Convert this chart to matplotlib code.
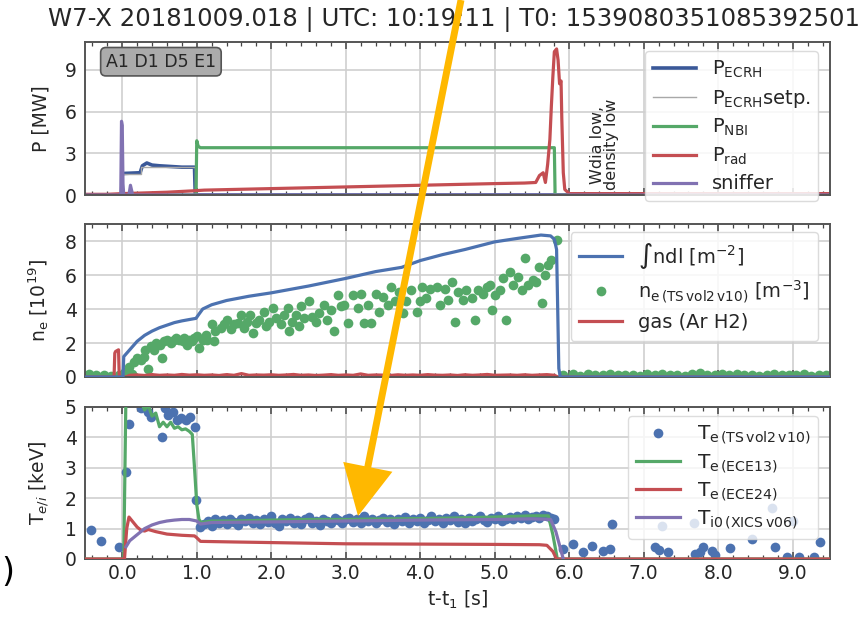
import numpy as np
import matplotlib
matplotlib.use('Agg')
import matplotlib.pyplot as plt
from matplotlib.patches import FancyArrowPatch
from matplotlib.ticker import MultipleLocator, FormatStrFormatter

# ---------------- data ----------------
title_text = "W7-X 20181009.018 | UTC: 10:19:11 | T0: 1539080351085392501"

# Panel 1: powers [MW]
t_ecrh = [-0.5, -0.01, 0.0, 0.02, 0.24, 0.27, 0.33, 0.40, 0.50, 0.65, 0.80, 0.97, 0.98, 9.5]
p_ecrh = [0, 0, 1.5, 1.55, 1.6, 2.1, 2.3, 2.15, 2.1, 2.05, 2.0, 2.0, 0, 0]
t_setp = [-0.5, 0.0, 0.0, 0.25, 0.25, 0.98, 0.98, 9.5]
p_setp = [0, 0, 1.5, 1.5, 2.0, 2.0, 0, 0]
t_nbi = [-0.5, 0.99, 1.0, 1.02, 1.05, 5.80, 5.81, 9.5]
p_nbi = [0, 0, 3.9, 3.5, 3.4, 3.4, 0, 0]
t_rad = [-0.5, -0.2, 0.0, 0.3, 0.6, 0.95, 1.1, 1.5, 2.0, 2.5, 3.0, 3.5, 4.0, 4.5, 5.0,
         5.4, 5.55, 5.60, 5.65, 5.68, 5.71, 5.74, 5.76, 5.78, 5.80, 5.83, 5.85, 5.87,
         5.89, 5.90, 5.92, 5.94, 6.0, 9.5]
p_rad = [0.05, 0.05, 0.1, 0.15, 0.2, 0.3, 0.35, 0.4, 0.46, 0.52, 0.58, 0.64, 0.7, 0.76, 0.82,
         0.86, 0.9, 1.4, 1.6, 0.9, 2.2, 4.0, 6.4, 8.5, 10.3, 10.5, 9.7, 8.0,
         8.2, 5.5, 1.6, 0.4, 0.1, 0.1]
t_sniff = [-0.5, -0.02, -0.01, 0.0, 0.01, 0.02, 0.09, 0.11, 0.14, 0.2, 9.5]
p_sniff = [0, 0, 5.3, 5.0, 0.8, 0, 0, 0.7, 0, 0, 0]

# Panel 2: density [1e19]
t_ndl = [-0.5, 0.01, 0.02, 0.1, 0.2, 0.3, 0.4, 0.5, 0.6, 0.7, 0.8, 0.9, 0.99, 1.03, 1.08,
         1.2, 1.4, 1.7, 2.0, 2.5, 3.0, 3.4, 3.75, 4.0, 4.3, 4.6, 5.0, 5.3, 5.62, 5.75,
         5.8, 5.83, 5.86, 5.88, 9.5]
ne_ndl = [0, 0, 1.2, 1.6, 2.1, 2.45, 2.7, 2.9, 3.05, 3.2, 3.3, 3.38, 3.45, 3.7, 4.0,
          4.25, 4.5, 4.75, 4.95, 5.35, 5.8, 6.2, 6.45, 6.85, 7.2, 7.5, 7.95, 8.15, 8.35, 8.3,
          8.1, 7.5, 0.5, 0, 0]

t_ts_ne = [-0.45, -0.35, -0.25, -0.15, -0.05,
           0.04, 0.09, 0.13, 0.16, 0.20, 0.25, 0.29, 0.34, 0.31, 0.38, 0.43, 0.45, 0.51, 0.54,
           0.56, 0.60, 0.65, 0.69, 0.72, 0.76, 0.81, 0.83, 0.87, 0.90, 0.94, 0.96, 1.01, 1.03,
           1.08, 1.12, 1.14, 1.21, 1.23, 1.25, 1.32, 1.37, 1.41, 1.46, 1.50, 1.55, 1.59, 1.64,
           1.68, 1.72, 1.75, 1.79, 1.84, 1.90, 1.93, 1.97, 2.02, 2.06, 2.13, 2.17, 2.22, 2.24,
           2.28, 2.33, 2.37, 2.40, 2.44, 2.51, 2.55, 2.60, 2.64, 2.71, 2.75, 2.80, 2.84, 2.89,
           2.93, 2.98, 3.03, 3.10, 3.16, 3.21, 3.25, 3.30, 3.34, 3.41, 3.45, 3.50, 3.57, 3.61,
           3.66, 3.72, 3.77, 3.81, 3.88, 3.95, 4.00, 4.02, 4.08, 4.13, 4.22, 4.26, 4.33, 4.37,
           4.42, 4.46, 4.51, 4.57, 4.62, 4.69, 4.73, 4.78, 4.84, 4.90, 4.93, 4.96, 5.00, 5.07,
           5.11, 5.15, 5.20, 5.25, 5.31, 5.36, 5.41, 5.45, 5.52, 5.56, 5.60, 5.64, 5.67, 5.72,
           5.76, 5.83,
           5.92, 6.05, 6.15, 6.25, 6.35, 6.45, 6.55, 6.65, 6.75, 6.85, 6.95, 7.05, 7.15, 7.25,
           7.35, 7.45, 7.55, 7.65, 7.75, 7.85, 7.95, 8.05, 8.15, 8.25, 8.35, 8.45, 8.55, 8.65,
           8.75, 8.85, 8.95, 9.05, 9.15, 9.25, 9.35, 9.45]
ne_ts = [0.15, 0.10, 0.12, 0.08, 0.10,
         0.32, 0.6, 0.2, 0.9, 1.1, 1.0, 1.2, 0.5, 1.6, 1.8, 1.6, 2.0, 1.9, 1.1,
         2.1, 2.2, 2.0, 2.2, 2.3, 2.2, 2.1, 2.3, 1.9, 2.2, 2.1, 2.3, 2.4, 1.7,
         2.2, 2.5, 2.2, 3.1, 2.1, 2.7, 2.9, 3.1, 3.35, 2.8, 3.1, 3.2, 3.65, 2.9,
         3.25, 3.65, 2.6, 3.2, 3.35, 3.85, 3.0, 3.25, 4.05, 3.45, 3.1, 3.65, 4.05, 2.7,
         3.25, 3.65, 3.0, 4.15, 3.45, 4.45, 3.55, 3.25, 3.75, 4.25, 3.35, 3.95, 2.7, 4.8,
         4.15, 4.25, 3.15, 4.8, 4.05, 4.9, 3.15, 4.25, 3.15, 4.9, 3.85, 4.7, 4.25, 5.3,
         4.45, 5.0, 3.75, 4.45, 5.1, 3.85, 4.45, 5.3, 4.65, 5.2, 5.3, 4.25, 5.2, 4.55,
         5.6, 3.25, 5.0, 4.55, 5.1, 4.65, 3.35, 5.1, 4.9, 5.3, 5.4, 3.95, 4.8, 5.1,
         5.8, 3.35, 6.2, 5.4, 5.9, 5.1, 7.0, 5.4, 5.7, 5.6, 6.5, 4.35, 6.0, 6.6,
         6.9, 8.05,
         0.10, 0.15, 0.08, 0.20, 0.12, 0.10, 0.18, 0.09, 0.14, 0.11, 0.07, 0.16, 0.12, 0.19,
         0.10, 0.13, 0.08, 0.17, 0.22, 0.11, 0.09, 0.15, 0.12, 0.18, 0.10, 0.14, 0.08, 0.13,
         0.16, 0.09, 0.12, 0.10, 0.15, 0.08, 0.11, 0.13]

t_gas = [-0.5, -0.11, -0.10, -0.09, -0.05, -0.04, 0.05, 0.1, 0.2, 0.3, 0.4, 0.5, 0.6, 0.7,
         0.8, 0.9, 1.0, 1.1, 1.2, 1.3, 1.4, 1.5, 1.6, 1.7, 1.8, 1.9, 2.0, 2.1, 2.2, 2.3,
         2.4, 2.5, 2.6, 2.7, 2.8, 2.9, 3.0, 3.1, 3.2, 3.3, 3.4, 3.5, 3.6, 3.7, 3.8, 3.9,
         4.0, 4.1, 4.2, 4.3, 4.4, 4.5, 4.6, 4.7, 4.8, 4.9, 5.0, 5.1, 5.2, 5.3, 5.4, 5.5,
         5.6, 5.7, 5.8, 5.85, 9.5]
ne_gas = [0.0, 0.0, 1.4, 1.5, 1.6, 0.0, 0.0, 0.1, 0.12, 0.09, 0.14, 0.1, 0.12, 0.1,
          0.15, 0.11, 0.13, 0.1, 0.12, 0.09, 0.14, 0.1, 0.2, 0.1, 0.12, 0.11, 0.13, 0.1,
          0.12, 0.15, 0.1, 0.12, 0.09, 0.11, 0.14, 0.1, 0.12, 0.1, 0.18, 0.1, 0.12, 0.11,
          0.09, 0.13, 0.1, 0.12, 0.1, 0.14, 0.11, 0.1, 0.12, 0.09, 0.13, 0.1, 0.12, 0.15,
          0.1, 0.11, 0.12, 0.1, 0.13, 0.1, 0.12, 0.14, 0.1, 0.0, 0.0]

# Panel 3: temperatures [keV]
t_te_ts = [-0.42, -0.29, -0.05, 0.05, 0.09, 0.15, 0.20, 0.25, 0.34, 0.39, 0.54, 0.58, 0.62,
           0.68, 0.74, 0.79, 0.86, 0.91, 0.97, 0.99,
           1.05, 1.10, 1.15, 1.20, 1.25, 1.30, 1.35, 1.40, 1.45, 1.50, 1.55, 1.60, 1.65, 1.70,
           1.75, 1.80, 1.85, 1.90, 1.95, 2.00, 2.05, 2.10, 2.15, 2.20, 2.25, 2.30, 2.35, 2.40,
           2.45, 2.50, 2.55, 2.60, 2.65, 2.70, 2.75, 2.80, 2.85, 2.90, 2.95, 3.00, 3.05, 3.10,
           3.15, 3.20, 3.25, 3.30, 3.35, 3.40, 3.45, 3.50, 3.55, 3.60, 3.65, 3.70, 3.75, 3.80,
           3.85, 3.90, 3.95, 4.00, 4.05, 4.10, 4.15, 4.20, 4.25, 4.30, 4.35, 4.40, 4.45, 4.50,
           4.55, 4.60, 4.65, 4.70, 4.75, 4.80, 4.85, 4.90, 4.95, 5.00, 5.05, 5.10, 5.15, 5.20,
           5.25, 5.30, 5.35, 5.40, 5.45, 5.50, 5.55, 5.60, 5.65, 5.70, 5.75, 5.80,
           5.92, 6.05, 6.18, 6.31, 6.45, 6.55, 6.58, 7.15, 7.20, 7.25, 7.33, 7.67, 7.69, 7.76,
           7.79, 7.91, 7.96, 8.16, 8.45, 8.72, 8.76, 8.92, 9.00, 9.08, 9.28, 9.37]
te_ts = [0.95, 0.6, 0.38, 2.87, 4.43, 5.6, 5.3, 4.96, 4.85, 4.68, 4.02, 4.96, 4.74,
         4.85, 4.57, 4.65, 4.57, 4.68, 4.35, 1.94,
         1.05, 1.15, 1.25, 1.1, 1.3, 1.2, 1.28, 1.15, 1.3, 1.22, 1.12, 1.3, 1.25, 1.35,
         1.2, 1.28, 1.15, 1.3, 1.22, 1.4, 1.2, 1.1, 1.3, 1.25, 1.35, 1.2, 1.28, 1.15,
         1.3, 1.38, 1.2, 1.25, 1.12, 1.32, 1.25, 1.2, 1.35, 1.28, 1.18, 1.3, 1.36, 1.22,
         1.3, 1.18, 1.4, 1.25, 1.3, 1.2, 1.28, 1.35, 1.22, 1.3, 1.15, 1.32, 1.25, 1.38,
         1.2, 1.3, 1.24, 1.35, 1.2, 1.28, 1.42, 1.25, 1.3, 1.18, 1.35, 1.28, 1.4, 1.22,
         1.3, 1.2, 1.36, 1.25, 1.32, 1.4, 1.28, 1.22, 1.35, 1.3, 1.42, 1.25, 1.32, 1.38,
         1.3, 1.4, 1.35, 1.45, 1.3, 1.38, 1.42, 1.35, 1.45, 1.4, 1.35, 1.3,
         0.33, 0.48, 0.22, 0.44, 0.27, 0.33, 1.16, 0.41, 0.3, 1.1, 0.22, 1.18, 0.16, 0.24,
         0.41, 0.26, 0.13, 0.36, 0.65, 1.67, 0.41, 0.08, 1.25, 0.08, 0.05, 0.57]

t_ece13 = [-0.5, 0.02, 0.05, 0.10, 0.20, 0.25, 0.30, 0.35, 0.40, 0.45, 0.50, 0.55, 0.60,
           0.65, 0.70, 0.75, 0.80, 0.85, 0.90, 0.94, 0.97, 1.00, 1.03, 1.06, 1.2, 1.5,
           2.0, 2.5, 3.0, 3.5, 4.0, 4.5, 5.0, 5.5, 5.72, 5.78, 5.84, 9.5]
te_ece13 = [0, 0, 5.5, 6.0, 6.0, 5.2, 4.9, 5.05, 4.7, 4.8, 4.35, 4.5, 4.35,
            4.5, 4.3, 4.35, 4.25, 4.28, 4.2, 4.1, 3.0, 1.8, 1.3, 1.2, 1.25, 1.25,
            1.28, 1.3, 1.3, 1.32, 1.33, 1.35, 1.38, 1.42, 1.42, 0.8, 0.0, 0.0]
t_ece24 = [-0.5, 0.03, 0.06, 0.09, 0.15, 0.20, 0.25, 0.30, 0.35, 0.45, 0.60, 0.80, 0.97,
           1.00, 1.05, 1.5, 2.0, 3.0, 4.0, 5.0, 5.6, 5.7, 5.78, 5.83, 9.5]
te_ece24 = [0, 0, 1.0, 1.38, 1.2, 1.05, 0.95, 0.92, 0.97, 0.9, 0.82, 0.78, 0.76,
            0.7, 0.58, 0.56, 0.54, 0.5, 0.49, 0.48, 0.47, 0.45, 0.25, 0.0, 0.0]
t_xics = [0.05, 0.10, 0.20, 0.30, 0.40, 0.50, 0.60, 0.70, 0.80, 0.90, 1.00, 1.05, 1.2,
          2.0, 3.0, 4.0, 5.0, 5.5, 5.75, 5.82, 5.92]
ti_xics = [0.4, 0.6, 0.8, 1.0, 1.12, 1.2, 1.25, 1.28, 1.3, 1.3, 1.25, 1.15, 1.2,
           1.22, 1.25, 1.28, 1.3, 1.32, 1.3, 0.9, 0.0]

xticks = [0, 1, 2, 3, 4, 5, 6, 7, 8, 9]

# ---------------- style ----------------
BLUE = '#4c72b0'
DBLUE = '#3a5898'
GREEN = '#55a868'
RED = '#c44e52'
PURPLE = '#8172b2'
GRAY = '#a8a8a8'
TXT = '#262626'
LW = 2.3

fig = plt.figure(figsize=(8.66, 6.21), dpi=100)
W, H = 866.0, 621.0


def add_ax(top, bottom):
    return fig.add_axes([85 / W, 1 - bottom / H, (830 - 85) / W, (bottom - top) / H])


ax1 = add_ax(42, 195)
ax2 = add_ax(224, 377)
ax3 = add_ax(407, 559)


def style(ax, ylim, yticks, labels=False):
    ax.set_xlim(-0.5, 9.5)
    ax.set_ylim(*ylim)
    ax.set_yticks(yticks)
    ax.set_xticks(xticks)
    ax.xaxis.set_minor_locator(MultipleLocator(0.2))
    ax.grid(True, which='major', color='#cfcfcf', lw=1.2)
    ax.set_axisbelow(True)
    ax.tick_params(axis='x', which='both', direction='in', top=True, bottom=True,
                   color='#444444', labelsize=13.5, labelcolor=TXT)
    ax.tick_params(axis='x', which='major', length=5, width=1.1)
    ax.tick_params(axis='x', which='minor', length=3, width=0.9)
    ax.tick_params(axis='y', which='both', length=0, labelsize=13.5, labelcolor=TXT, pad=6)
    if labels:
        ax.xaxis.set_major_formatter(FormatStrFormatter('%.1f'))
    else:
        ax.tick_params(axis='x', labelbottom=False)
    for s in ax.spines.values():
        s.set_color('#555555')
        s.set_linewidth(1.4)


style(ax1, (0, 11), [0, 3, 6, 9])
style(ax2, (0, 9), [0, 2, 4, 6, 8])
style(ax3, (0, 5), [0, 1, 2, 3, 4, 5], labels=True)

# Panel 1
ax1.plot(t_ecrh, p_ecrh, color=DBLUE, lw=2.6, label=r'P$_\mathregular{ECRH}$')
ax1.plot(t_setp, p_setp, color=GRAY, lw=1.0, label=r'P$_\mathregular{ECRH}$setp.')
ax1.plot(t_nbi, p_nbi, color=GREEN, lw=LW, label=r'P$_\mathregular{NBI}$')
ax1.plot(t_rad, p_rad, color=RED, lw=LW, label=r'P$_\mathregular{rad}$')
ax1.plot(t_sniff, p_sniff, color=PURPLE, lw=LW, label='sniffer')
ax1.set_ylabel('P [MW]', fontsize=13.5, color=TXT, labelpad=10)
leg1 = ax1.legend(loc='upper right', bbox_to_anchor=(0.984, 0.94), borderaxespad=0,
                  fontsize=14, framealpha=0.85, edgecolor='#d5d5d5', fancybox=True,
                  labelspacing=0.38, handlelength=2.2, borderpad=0.4)
for txt in leg1.get_texts():
    txt.set_color(TXT)
ax1.text(0.028, 0.93, 'A1 D1 D5 E1', transform=ax1.transAxes, fontsize=12.5, color=TXT,
         ha='left', va='top',
         bbox=dict(boxstyle='round,pad=0.3', facecolor='#ababab', edgecolor='#555555', lw=1.2))
ax1.text(6.47, 0.35, 'Wdia low,\ndensity low', rotation=90, fontsize=11.5, color=TXT,
         ha='center', va='bottom', linespacing=0.95)

# Panel 2
ax2.plot(t_ndl, ne_ndl, color=BLUE, lw=LW, label='\u222bndl [m$^{-2}$]', zorder=3)
ax2.plot(t_ts_ne, ne_ts, 'o', color=GREEN, ms=7, mec='none',
         label=r'n$_\mathregular{e\,(TS\,vol2\,v10)}$ [m$^{-3}$]', zorder=2)
ax2.plot(t_gas, ne_gas, color=RED, lw=LW, label='gas (Ar H2)', zorder=2)
ax2.set_ylabel(r'n$_\mathregular{e}$ [10$^{19}$]', fontsize=13.5, color=TXT, labelpad=10)
leg2 = ax2.legend(loc='upper right', bbox_to_anchor=(0.984, 0.945), borderaxespad=0,
                  fontsize=14, framealpha=0.85, edgecolor='#d5d5d5', fancybox=True,
                  labelspacing=0.4, handlelength=2.2, numpoints=1, borderpad=0.45)
for txt in leg2.get_texts():
    txt.set_color(TXT)

# Panel 3
ax3.plot(t_te_ts, te_ts, 'o', color=BLUE, ms=7, mec='none',
         label=r'T$_\mathregular{e\,(TS\,vol2\,v10)}$', zorder=2)
ax3.plot(t_ece13, te_ece13, color=GREEN, lw=LW, label=r'T$_\mathregular{e\,(ECE13)}$', zorder=3)
ax3.plot(t_ece24, te_ece24, color=RED, lw=LW, label=r'T$_\mathregular{e\,(ECE24)}$', zorder=3)
ax3.plot(t_xics, ti_xics, color=PURPLE, lw=LW, label=r'T$_\mathregular{i0\,(XICS\,v06)}$', zorder=3)
ax3.set_ylabel(r'T$_{e/i}$ [keV]', fontsize=13.5, color=TXT, labelpad=10)
ax3.set_xlabel(r't-t$_\mathregular{1}$ [s]', fontsize=13.5, color=TXT, labelpad=4)
leg3 = ax3.legend(loc='upper right', bbox_to_anchor=(0.984, 0.94), borderaxespad=0,
                  fontsize=14.5, framealpha=0.8, edgecolor='#d5d5d5', fancybox=True,
                  labelspacing=0.3, handlelength=2.2, numpoints=1, borderpad=0.4)
for txt in leg3.get_texts():
    txt.set_color(TXT)

# title
fig.text(48 / W, 1 - 20 / H, title_text, fontsize=17.6, color=TXT, ha='left', va='center')

# overlay arrow and stray bracket
arrow = FancyArrowPatch((461 / W, 1.0), (358 / W, 1 - 516 / H), transform=fig.transFigure,
                        arrowstyle='-|>', mutation_scale=70, lw=5.0, color='#ffb800',
                        shrinkA=0, shrinkB=0, zorder=20, joinstyle='miter', capstyle='butt')
fig.add_artist(arrow)
fig.text(1 / W, 1 - 572 / H, ')', fontsize=24, color='black', ha='left', va='center')

fig.savefig('out.png', dpi=100)
